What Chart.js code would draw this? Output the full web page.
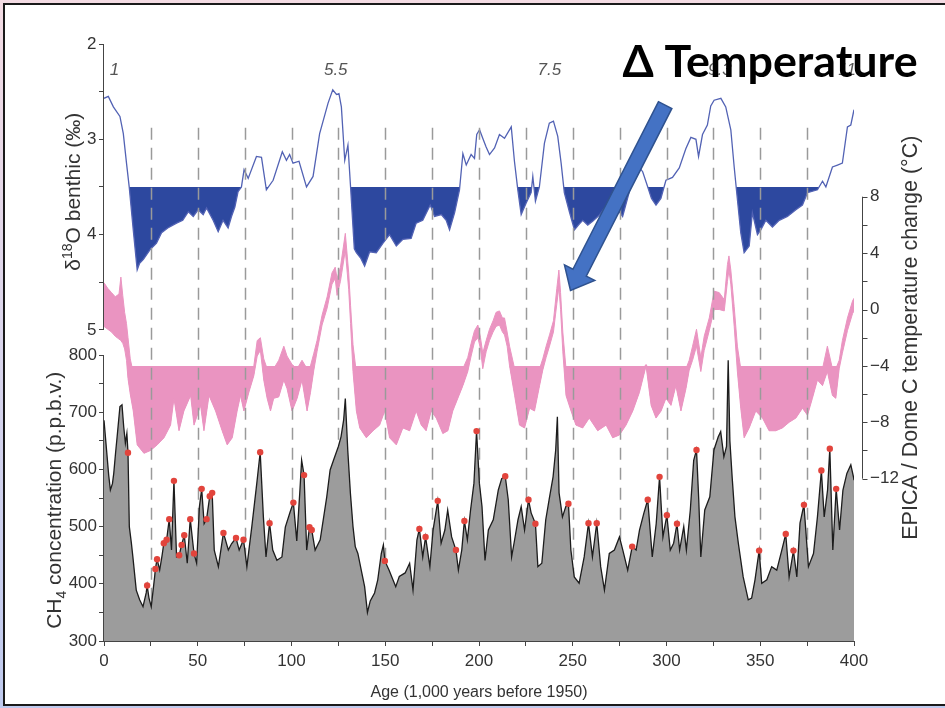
<!DOCTYPE html>
<html>
<head>
<meta charset="utf-8">
<script src="https://cdn.jsdelivr.net/npm/chart.js@4/dist/chart.umd.min.js"></script>
<style>
  html, body { margin: 0; padding: 0; }
  body {
    width: 945px; height: 708px; overflow: hidden; position: relative;
    background: linear-gradient(180deg, #f3dbe3 0%, #d9d5ec 50%, #bfcaee 100%);
  }
  .frame {
    position: absolute; left: 3px; top: 3px; width: 945px; height: 699px;
    background: #fff;
    border-left: 2px solid #1a1a1a; border-top: 2px solid #1a1a1a; border-bottom: 2px solid #1a1a1a;
  }
  #chart { position: absolute; left: 0; top: 0; }
</style>
</head>
<body>
<div class="frame"></div>
<canvas id="chart" width="945" height="708"></canvas>
<script>
// benthic d18O (per mil), stack record
const ageD18O = [0, 2.3, 5, 8.5, 10.3, 12, 13.5, 15.6, 17.7, 19, 21, 24.5, 28, 30.7, 34, 38.7, 42, 45, 47.6, 50.2,
  52.9, 54.7, 58.2, 60.9, 63.5, 66.2, 68, 69.8, 71.5, 73.3, 74.7, 76.9, 81.3, 84, 86.6, 90.2, 95.1, 97.3, 99, 100.8,
  104, 108, 111.5, 115, 119.5, 122, 124, 125.3, 126.6, 128.4, 130.1, 131.5, 133.5, 134.6, 137, 139, 141.7, 145.2, 148.8, 152.3,
  155.9, 159.4, 163.8, 166.5, 170, 174, 176.3, 179.9, 182.5, 184.3, 187, 189.6, 191.4, 193.2, 195.8, 197.6, 198.8, 200.3, 202, 203.8,
  205.6, 208.3, 210.9, 213.6, 217.2, 218.9, 220.7, 222.5, 225.1, 227.8, 228.7, 230.1, 232.2, 234.9, 237.5, 239.7, 242, 243.8, 245.5, 248.2,
  250.9, 253, 255.3, 258, 260.6, 264, 267, 270, 273, 276.6, 280.2, 283.7, 287.3, 290, 292, 294.4, 297, 299.7, 303.2, 306.8,
  310.3, 313, 315.7, 317.1, 319.2, 321.8, 323.6, 325.4, 329, 331.6, 334.3, 336.1, 337.3, 339.6, 341.4, 344.1, 345.8, 348.5, 350.3, 353,
  356.5, 360.1, 364.5, 369, 372.5, 375.2, 380.5, 383.2, 385, 388.5, 391.2, 393.8, 396.5, 398.3, 400];
const d18O = [2.57, 2.55, 2.66, 2.76, 2.94, 3.25, 3.51, 3.95, 4.37, 4.30, 4.26, 4.16, 4.09, 3.98, 3.93, 3.88, 3.85, 3.76, 3.81, 3.74,
  3.79, 3.72, 3.85, 3.97, 3.85, 3.93, 3.81, 3.71, 3.55, 3.50, 3.32, 3.41, 3.18, 3.19, 3.53, 3.43, 3.13, 3.22, 3.16, 3.25,
  3.23, 3.50, 3.39, 2.94, 2.62, 2.48, 2.53, 2.52, 2.66, 3.22, 3.06, 3.50, 4.15, 4.19, 4.25, 4.33, 4.18, 4.19, 4.09, 4.00,
  4.12, 4.05, 4.04, 3.88, 3.85, 3.69, 3.81, 3.79, 3.85, 3.95, 3.77, 3.53, 3.15, 3.27, 3.16, 3.20, 2.95, 2.90, 2.99, 3.08,
  3.16, 3.09, 2.95, 2.99, 2.87, 3.23, 3.53, 3.79, 3.67, 3.56, 3.39, 3.65, 3.50, 3.04, 2.83, 2.81, 2.97, 3.25, 3.56, 3.76,
  3.95, 3.90, 3.85, 3.90, 3.86, 3.80, 3.72, 3.75, 3.71, 3.81, 3.55, 3.25, 3.34, 3.50, 3.62, 3.69, 3.62, 3.43, 3.40, 3.30,
  3.10, 2.98, 3.00, 3.18, 2.95, 2.85, 2.65, 2.59, 2.57, 2.66, 2.90, 3.29, 3.53, 3.98, 4.19, 4.12, 3.77, 4.00, 3.95, 3.85,
  3.92, 3.85, 3.81, 3.74, 3.69, 3.56, 3.53, 3.44, 3.50, 3.29, 3.27, 3.25, 2.87, 2.85, 2.69];

// EPICA Dome C temperature change (deg C): upper and lower edge of the noisy trace
const ageTemp = [0, 2, 4, 6, 8, 9, 10, 11, 12, 12.8, 14, 15.6, 17.7, 21.3, 24.8, 28.4, 32, 35.5, 37.3, 40,
  42.6, 46.2, 48, 51.5, 53.3, 56, 59.5, 63, 65.7, 68.4, 71, 72.8, 74.6, 77.3, 79.9, 81.7, 83.4, 85.2, 87, 88.8,
  90.5, 93.2, 95.9, 97.6, 100.3, 103, 105.6, 108.3, 110.1, 111.9, 113.6, 116.3, 119, 121.6, 123.3, 124.3, 126.1, 128.7, 130.5, 131.5,
  132.8, 134.6, 136.4, 139.9, 143.5, 147, 149.7, 152.3, 155.9, 159.4, 163, 166.5, 169.2, 171.8, 174.5, 177.2, 180.7, 183.4, 186, 188.7,
  191.4, 194, 195.8, 197.6, 199.4, 200.8, 202, 203.8, 205.6, 207.5, 209.1, 210.9, 212.5, 213.6, 215, 216.3, 219, 221.6, 224.3, 227,
  229.6, 232.3, 234, 235.8, 237.6, 239.7, 241.5, 242.6, 243.5, 244.7, 246.4, 249.1, 251.7, 255.3, 258.8, 263.3, 267.8, 271.3, 274.9, 278.4,
  282, 285.5, 289.1, 291.8, 294.4, 297.1, 299.7, 302.4, 305, 307.7, 310.4, 312.1, 313.9, 316, 318.3, 320.1, 322.8, 325.4, 328.1, 330.8,
  332.5, 333.3, 334.3, 336.1, 337.8, 339.6, 341.4, 344.1, 347.6, 351.2, 354.7, 358.3, 361.8, 365.4, 369, 372.5, 375.2, 377.8, 380.5, 383.2,
  385.8, 388.5, 390.3, 392.1, 393.8, 396.5, 399.2, 400];
const tempHi = [1.9, 1.5, 1.2, 0.9, 1.1, 2.3, 1.0, -0.2, -1.0, -2.0, -3.5, -4.5, -4.5, -4.5, -4.5, -4.5, -4.5, -4.5, -4.5, -4.5,
  -4.5, -4.5, -4.5, -4.5, -4.5, -4.5, -4.5, -4.5, -4.5, -4.5, -4.5, -4.5, -4.5, -4.5, -4.0, -2.2, -2.0, -3.5, -4.2, -4.2,
  -4.2, -3.6, -2.6, -3.3, -3.9, -4.2, -3.6, -4.2, -4.0, -3.1, -2.2, -0.4, 0.9, 2.6, 3.0, 2.2, 3.0, 5.4, 2.6, 0.3,
  -2.5, -4.5, -4.5, -4.5, -4.5, -4.5, -4.5, -4.5, -4.5, -4.5, -4.5, -4.5, -4.5, -4.5, -4.5, -4.5, -4.5, -4.5, -4.5, -4.5,
  -4.2, -3.4, -2.4, -1.5, -1.1, -2.0, -3.1, -2.2, -1.4, -0.8, -0.2, -0.1, -0.6, -0.6, -1.6, -2.6, -4.2, -4.5, -4.5, -4.5,
  -4.5, -4.2, -3.5, -2.6, -1.8, -0.8, 1.5, 2.8, 1.2, -1.6, -4.2, -4.5, -4.5, -4.5, -4.5, -4.5, -4.5, -4.5, -4.5, -4.5,
  -4.5, -4.5, -3.9, -4.5, -4.5, -4.5, -4.5, -4.5, -4.2, -4.5, -4.2, -3.6, -2.6, -1.4, -3.4, -1.9, -0.6, 1.3, 1.2, 0.7,
  3.2, 3.8, 2.8, 0.2, -2.6, -4.2, -4.5, -4.5, -4.5, -4.5, -4.5, -4.5, -4.5, -4.5, -4.5, -4.5, -4.5, -4.5, -4.2, -4.2,
  -2.6, -4.2, -4.2, -3.6, -2.2, -0.6, 0.6, 0.8];
const tempLo = [-1.2, -1.4, -1.6, -1.9, -2.1, -2.2, -2.4, -2.8, -3.6, -4.9, -6.0, -7.2, -9.6, -10.2, -10.0, -9.6, -9.1, -8.2, -6.3, -8.6,
  -7.2, -6.1, -8.2, -6.8, -8.6, -6.1, -7.2, -8.6, -9.6, -9.1, -7.2, -6.1, -7.2, -5.85, -4.7, -3.3, -2.9, -5.0, -6.3, -7.2,
  -6.3, -6.2, -5.0, -5.6, -7.2, -6.3, -5.0, -7.2, -5.9, -4.3, -3.0, -1.1, 0.1, 1.8, 2.2, 1.0, 2.0, 4.2, 1.4, -1.0,
  -4.4, -7.2, -8.4, -9.1, -8.6, -8.2, -7.2, -9.1, -9.6, -8.4, -8.6, -7.2, -8.2, -8.6, -7.2, -7.7, -8.8, -8.6, -7.2, -6.3,
  -5.4, -4.4, -3.3, -2.3, -2.0, -2.8, -4.2, -3.0, -2.2, -1.6, -1.2, -1.1, -1.6, -1.8, -2.6, -4.0, -6.1, -8.2, -8.4, -7.0,
  -7.2, -5.4, -4.3, -3.4, -2.6, -1.6, 0.4, 1.6, 0.0, -3.0, -6.1, -7.2, -8.2, -8.4, -7.7, -8.6, -8.2, -9.1, -8.9, -8.2,
  -7.2, -5.9, -4.0, -6.8, -7.7, -7.2, -6.3, -6.8, -5.4, -7.2, -5.6, -4.3, -3.6, -2.6, -4.4, -2.9, -1.5, 0.0, 0.0, -0.1,
  2.0, 2.8, 1.8, -1.2, -4.4, -7.0, -9.1, -8.4, -7.2, -7.7, -8.6, -8.6, -8.4, -8.0, -7.7, -7.0, -7.5, -6.3, -5.0, -5.4,
  -4.4, -6.1, -6.3, -4.2, -3.1, -1.5, -0.3, -0.1];

// EPICA CH4 (p.p.b.v.)
const ageCH4 = [0, 1.2, 2.5, 3.4, 4.5, 5.2, 6.2, 7, 8.5, 9.6, 10.5, 11.4, 12.2, 12.8, 13.5, 14.6, 15.4, 17.2, 19, 20.8,
  22.5, 23, 24, 25.2, 27, 27.4, 28.3, 29.7, 31, 31.9, 33.4, 34.8, 36, 37.3, 38.7, 40.1, 41.4, 42.8, 44.4, 46,
  48, 49.4, 50.9, 52.1, 53.4, 54.7, 56.4, 57.7, 58.8, 61, 63.7, 66.3, 68, 70.4, 72.1, 74.4, 76.2, 78.8, 81.5, 83.3,
  85, 86.4, 88.3, 90, 92.2, 94.9, 96.7, 99.3, 101, 102.8, 104.5, 105.4, 106.7, 108.1, 109.6, 110.8, 112.6, 115.3, 118.8, 120.6,
  122.4, 125, 126.4, 127.8, 128.7, 130, 131.4, 132.8, 134, 135.4, 137.5, 139, 140.5, 142, 144.3, 146, 147.9, 149, 149.8, 152,
  155.6, 157.5, 160.6, 163, 164.8, 166.9, 168.2, 170, 171.5, 173.8, 175.5, 178, 179.8, 181.8, 183.3, 185.4, 187.7, 189, 190.8, 192.2,
  193.8, 195.5, 197.3, 198.7, 200.2, 201.6, 203.2, 205, 207.6, 210.3, 212.1, 214, 215.6, 217.4, 219, 220.8, 222.5, 224.3, 226.4, 227.8,
  230.1, 231.4, 233.5, 235.6, 237.4, 239.5, 240.9, 241.8, 242.7, 244.5, 246.3, 247.7, 249, 250.8, 253.4, 256.1, 258.4, 260.5, 262.8, 264.9,
  266.9, 269.5, 272.2, 274.9, 276.7, 279.3, 281.7, 283.8, 285.6, 287.9, 290, 292.4, 294.5, 296.3, 298.1, 300.2, 302, 303.8, 305.6, 307,
  309.2, 310.6, 312.7, 314.5, 316, 317.2, 318.3, 320.4, 323.1, 325.3, 327.6, 328.9, 330.6, 332, 332.9, 333.8, 335, 336.5, 338.3, 340.9,
  343.6, 345.4, 347.2, 349.4, 350.8, 353.5, 356.1, 358.8, 361.5, 363.6, 365.4, 367.7, 369.5, 371.2, 373.3, 375.7, 378.4, 380.5, 382.6, 384.1,
  385.9, 387.1, 388.7, 390.5, 392.3, 394.1, 396.2, 398.3, 399.7, 400];
const ch4 = [686, 640, 590, 564, 575, 593, 630, 657, 710, 713, 675, 646, 663, 629, 500, 471, 447, 389, 372, 360,
  384, 397, 375, 360, 412, 426, 443, 424, 450, 471, 477, 513, 459, 580, 447, 450, 468, 485, 436, 513,
  453, 436, 535, 566, 505, 513, 553, 559, 459, 430, 489, 459, 470, 480, 459, 477, 430, 499, 576, 630,
  517, 447, 506, 459, 441, 447, 499, 526, 542, 475, 564, 616, 590, 459, 499, 494, 459, 477, 552, 599,
  616, 640, 657, 686, 724, 634, 559, 500, 465, 453, 419, 395, 350, 370, 384, 407, 453, 468, 440, 424,
  395, 413, 419, 436, 389, 477, 496, 447, 482, 430, 494, 545, 471, 494, 529, 482, 459, 424, 459, 510,
  477, 529, 576, 667, 576, 535, 441, 494, 512, 564, 584, 588, 547, 447, 477, 512, 535, 494, 547, 524,
  505, 430, 436, 512, 547, 587, 634, 692, 559, 517, 535, 540, 459, 412, 401, 447, 506, 447, 506, 430,
  389, 453, 459, 482, 459, 424, 465, 459, 494, 523, 547, 447, 505, 587, 482, 520, 459, 471, 505, 459,
  500, 459, 529, 616, 634, 547, 447, 529, 552, 634, 657, 666, 622, 640, 791, 650, 587, 517, 471, 412,
  372, 375, 407, 458, 401, 407, 430, 424, 459, 487, 412, 458, 412, 506, 538, 430, 453, 517, 598, 517,
  564, 636, 459, 566, 494, 564, 593, 608, 587, 581];

// red markers on CH4 peaks
const ageDots = [12.8, 23, 27.4, 28.3, 31.9, 33.4, 34.8, 37.3, 40.1, 41.4, 42.8, 46, 48, 52.1, 54.7, 56.4, 57.7, 63.7, 70.4, 74.4,
  83.3, 88.3, 101, 106.7, 109.6, 110.8, 149.8, 168.2, 171.5, 178, 187.7, 192.2, 198.7, 214, 226.4, 230.1, 247.7, 258.4, 262.8, 281.7,
  290, 296.3, 300.2, 305.6, 316, 349.4, 363.6, 367.7, 373.3, 382.6, 387.1, 390.5];
const ch4Dots = [629, 397, 426, 443, 471, 477, 513, 580, 450, 468, 485, 513, 453, 566, 513, 553, 559, 489, 480, 477,
  630, 506, 542, 590, 499, 494, 440, 496, 482, 545, 459, 510, 667, 588, 547, 505, 540, 506, 506, 465,
  547, 587, 520, 505, 634, 458, 487, 458, 538, 598, 636, 566];

const xTickValues = [0, 25, 50, 75, 100, 125, 150, 175, 200, 225, 250, 275, 300, 325, 350, 375, 400];
const d18OTickValues = [2, 2.5, 3, 3.5, 4, 4.5, 5];
const ch4TickValues = [300, 350, 400, 450, 500, 550, 600, 650, 700, 750, 800];
const tempTickValues = [-12, -10, -8, -6, -4, -2, 0, 2, 4, 6, 8];
const dashAges = [25, 50, 75, 100, 125, 150, 175, 200, 225, 250, 275, 300, 325, 350, 375];
const stageAges = [5.6, 123.6, 237.5, 328.5, 396.3];
const stageLabels = ['1', '5.5', '7.5', '9.3', '11'];

const FONT = "'Liberation Sans', Arial, sans-serif";
const INK = '#333';
const PINK = '#ea94c1';

const pts = (xs, ys) => xs.map((v, i) => ({ x: v, y: ys[i] }));
const tempLabel = (v) => (v % 4 === 0 ? (v < 0 ? '−' + Math.abs(v) : String(v)) : '');

function tickScale(values, ticks, extra) {
  return Object.assign({
    type: 'linear',
    bounds: 'data',
    afterBuildTicks: (s) => { s.ticks = values.map((v) => ({ value: v })); },
    ticks: Object.assign({ autoSkip: false, maxRotation: 0, color: INK, font: { size: 17 }, padding: 2 }, ticks),
    grid: { drawOnChartArea: false, tickLength: 5, tickColor: '#444' },
    border: { display: false },
  }, extra);
}

function drawParts(ctx, parts, cx, cy, rotate) {
  ctx.save();
  ctx.translate(cx, cy);
  if (rotate) ctx.rotate(-Math.PI / 2);
  let total = 0;
  parts.forEach((p) => { ctx.font = p.font; p.w = ctx.measureText(p.text).width; total += p.w; });
  let pos = -total / 2;
  ctx.textAlign = 'left';
  ctx.textBaseline = 'alphabetic';
  parts.forEach((p) => { ctx.font = p.font; ctx.fillText(p.text, pos, p.dy || 0); pos += p.w; });
  ctx.restore();
}

const overlay = {
  id: 'overlay',
  afterDatasetDraw(chart, args) {
    if (chart.data.datasets[args.index].key !== 'tempLo') return;
    const { ctx, chartArea, scales: { x, yD } } = chart;
    const top = yD.getPixelForValue(2.88);
    ctx.save();
    ctx.strokeStyle = '#9a9a9a';
    ctx.lineWidth = 1.5;
    ctx.setLineDash([12, 8]);
    dashAges.forEach((a) => {
      const px = Math.round(x.getPixelForValue(a)) + 0.5;
      ctx.beginPath();
      ctx.moveTo(px, top);
      ctx.lineTo(px, chartArea.bottom);
      ctx.stroke();
    });
    ctx.restore();
  },
  afterDraw(chart) {
    const { ctx, chartArea, scales: { x, yD, yC, yT } } = chart;
    const L = chartArea.left, B = chartArea.bottom;
    ctx.save();
    ctx.strokeStyle = '#444';
    ctx.lineWidth = 1;
    // axis lines
    ctx.beginPath();
    ctx.moveTo(L - 0.5, yD.getPixelForValue(2)); ctx.lineTo(L - 0.5, yD.getPixelForValue(5));
    ctx.moveTo(L - 0.5, yC.getPixelForValue(800)); ctx.lineTo(L - 0.5, yC.getPixelForValue(300));
    ctx.moveTo(x.getPixelForValue(0), B + 0.5); ctx.lineTo(x.getPixelForValue(400), B + 0.5);
    const ax = chartArea.right + 8.5;
    ctx.moveTo(ax, yT.getPixelForValue(8)); ctx.lineTo(ax, yT.getPixelForValue(-12));
    tempTickValues.forEach((v) => {
      const py = Math.round(yT.getPixelForValue(v)) + 0.5;
      ctx.moveTo(ax, py); ctx.lineTo(ax + 5, py);
    });
    ctx.stroke();

    // axis titles
    ctx.fillStyle = INK;
    drawParts(ctx, [
      { text: 'δ', font: `21px ${FONT}` },
      { text: '18', font: `14px ${FONT}`, dy: -8 },
      { text: 'O benthic (‰)', font: `21px ${FONT}` },
    ], L - 24, yD.getPixelForValue(3.55), true);
    drawParts(ctx, [
      { text: 'CH', font: `21px ${FONT}` },
      { text: '4', font: `14px ${FONT}`, dy: 5 },
      { text: ' concentration (p.p.b.v.)', font: `21px ${FONT}` },
    ], L - 43, yC.getPixelForValue(546), true);
    drawParts(ctx, [
      { text: 'EPICA / Dome C temperature change (°C)', font: `21.5px ${FONT}` },
    ], chartArea.right + 63, yT.getPixelForValue(-2), true);
    drawParts(ctx, [
      { text: 'Age (1,000 years before 1950)', font: `16px ${FONT}` },
    ], x.getPixelForValue(200), B + 56, false);

    // marine isotope stage labels
    ctx.fillStyle = '#555';
    stageAges.forEach((a, i) => {
      drawParts(ctx, [{ text: stageLabels[i], font: `italic 17px ${FONT}` }], x.getPixelForValue(a), yD.getPixelForValue(2.325), false);
    });

    // slide annotation: arrow + label
    const tail = { x: x.getPixelForValue(299.3), y: yT.getPixelForValue(14.5) };
    const tip = { x: x.getPixelForValue(248.8), y: yT.getPixelForValue(1.35) };
    const len = Math.hypot(tip.x - tail.x, tip.y - tail.y);
    const ux = (tip.x - tail.x) / len, uy = (tip.y - tail.y) / len;
    const nx = -uy, ny = ux;
    const hw = 7.5, hh = 17, hl = 20;
    const bx = tip.x - ux * hl, by = tip.y - uy * hl;
    ctx.beginPath();
    ctx.moveTo(tail.x + nx * hw, tail.y + ny * hw);
    ctx.lineTo(bx + nx * hw, by + ny * hw);
    ctx.lineTo(bx + nx * hh, by + ny * hh);
    ctx.lineTo(tip.x, tip.y);
    ctx.lineTo(bx - nx * hh, by - ny * hh);
    ctx.lineTo(bx - nx * hw, by - ny * hw);
    ctx.lineTo(tail.x - nx * hw, tail.y - ny * hw);
    ctx.closePath();
    ctx.fillStyle = '#4472c4';
    ctx.fill();
    ctx.strokeStyle = '#2f528f';
    ctx.lineWidth = 1.5;
    ctx.stroke();

    const label = 'Δ Temperature';
    const left = x.getPixelForValue(276.5), right = x.getPixelForValue(434);
    ctx.font = `bold 40px Lato, 'Noto Sans', sans-serif`;
    const size = 40 * (right - left) / ctx.measureText(label).width;
    ctx.font = `bold ${size.toFixed(1)}px Lato, 'Noto Sans', sans-serif`;
    ctx.fillStyle = '#000';
    ctx.textAlign = 'left';
    ctx.textBaseline = 'alphabetic';
    ctx.fillText(label, left, yD.getPixelForValue(2.345));
    ctx.restore();
  },
};

Chart.defaults.font.family = FONT;

new Chart(document.getElementById('chart'), {
  type: 'line',
  data: {
    datasets: [
      {
        key: 'dots', data: pts(ageDots, ch4Dots), yAxisID: 'yC', showLine: false,
        pointRadius: 3.2, pointBackgroundColor: '#e2443c', pointBorderWidth: 0, order: 1,
      },
      {
        key: 'ch4', data: pts(ageCH4, ch4), yAxisID: 'yC', borderColor: '#1c1c1c', borderWidth: 1.3,
        backgroundColor: '#9c9c9c', fill: 'start', pointRadius: 0, order: 2,
      },
      {
        key: 'tempHi', data: pts(ageTemp, tempHi), yAxisID: 'yT', borderColor: PINK, borderWidth: 1,
        backgroundColor: PINK, fill: '+1', pointRadius: 0, order: 4,
      },
      {
        key: 'tempLo', data: pts(ageTemp, tempLo), yAxisID: 'yT', borderColor: PINK, borderWidth: 1,
        fill: { target: { value: -4 }, above: 'rgba(0,0,0,0)', below: PINK }, pointRadius: 0, order: 3,
      },
      {
        key: 'd18o', data: pts(ageD18O, d18O), yAxisID: 'yD', borderColor: '#5262b4', borderWidth: 1.3,
        fill: { target: { value: 3.5 }, above: 'rgba(0,0,0,0)', below: '#2d489f' }, pointRadius: 0, order: 5,
      },
    ],
  },
  options: {
    responsive: false,
    animation: false,
    events: [],
    layout: { padding: { left: 0, right: 0, top: 44, bottom: 0 } },
    plugins: { legend: { display: false }, tooltip: { enabled: false } },
    elements: { line: { tension: 0 } },
    scales: {
      x: tickScale(xTickValues, { padding: 5, callback: (v) => (v % 50 === 0 ? String(v) : '') }, {
        position: 'bottom', min: 0, max: 400,
        afterFit: (s) => { s.height = 67; },
      }),
      // d18O axis sits against the plot; labels mirrored back out to the left of the axis line
      yD: tickScale(d18OTickValues, { mirror: true, crossAlign: 'far', padding: -17,
        callback: (v) => (Number.isInteger(v) ? String(v) : '') }, {
        position: 'left', weight: 1, reverse: true, min: 2, max: 2 + 597 / 95.3,
        afterFit: (s) => { s.width = 0; },
      }),
      yC: tickScale(ch4TickValues, { callback: (v) => (v % 100 === 0 ? String(v) : '') }, {
        position: 'left', weight: 2, min: 300, max: 800 + (641 - 44) * 500 / 286 - 500,
        afterFit: (s) => { s.width = 104; },
      }),
      yT: tickScale(tempTickValues, { padding: 16, callback: tempLabel }, {
        position: 'right', min: -(641 - 309.5) / 14.1, max: (309.5 - 44) / 14.1,
        grid: { display: false, drawTicks: false },
        afterFit: (s) => { s.width = 91; },
      }),
    },
  },
  plugins: [overlay],
});
</script>
</body>
</html>
